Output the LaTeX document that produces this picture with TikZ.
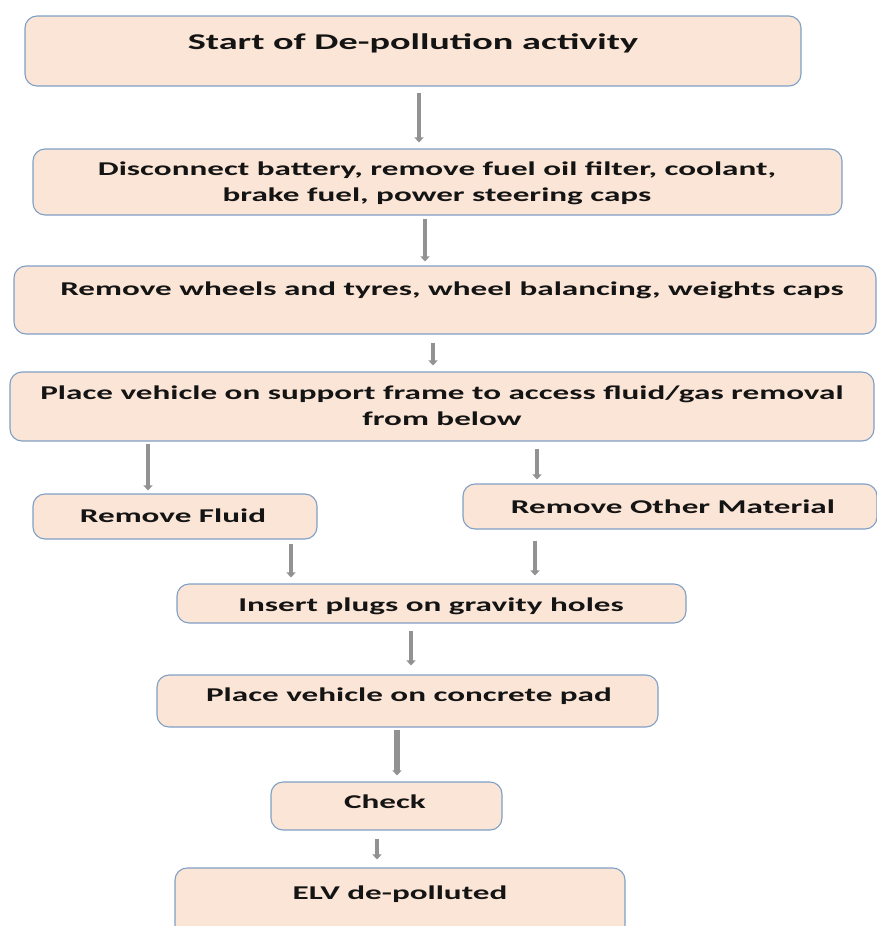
\documentclass[tikz,border=0pt]{standalone}
\usepackage{fontspec}
\setmainfont{Carlito}[FakeStretch=1.7]
\usetikzlibrary{arrows.meta}
\definecolor{boxfill}{HTML}{FBE5D6}
\definecolor{boxline}{HTML}{7F9FC6}
\definecolor{arrgray}{HTML}{929292}
\tikzset{
  stepbox/.style={draw=boxline, fill=boxfill, line width=1.1pt, rounded corners=12pt, inner sep=0pt},
  lbl/.style={font=\fontsize{19.5}{26}\selectfont\bfseries, inner sep=0pt, align=center, text=black!92},
  arr/.style={draw=arrgray, line width=4.8pt, -{Triangle[width=9pt,length=5pt]}},
}
\begin{document}
\begin{tikzpicture}[x=1pt,y=-1pt]
\useasboundingbox (0,0) rectangle (877,926);
\clip (0,0) rectangle (877,926);
% boxes
\node[stepbox, minimum width=776pt, minimum height=70pt] (b1) at (413,51) {};
\node[stepbox, minimum width=809pt, minimum height=66pt] (b2) at (437.5,182) {};
\node[stepbox, minimum width=862pt, minimum height=68pt] (b3) at (445,300) {};
\node[stepbox, minimum width=864pt, minimum height=69pt] (b4) at (442,406.5) {};
\node[stepbox, minimum width=284pt, minimum height=45pt] (b5) at (175,516.5) {};
\node[stepbox, minimum width=414pt, minimum height=45pt] (b6) at (670,506.5) {};
\node[stepbox, minimum width=509pt, minimum height=39pt] (b7) at (431.5,603.5) {};
\node[stepbox, minimum width=501pt, minimum height=52pt] (b8) at (407.5,701) {};
\node[stepbox, minimum width=231pt, minimum height=48pt] (b9) at (386.5,806) {};
\node[stepbox, minimum width=450pt, minimum height=76pt] (b10) at (400,906) {};
% texts
\node[lbl, font=\fontsize{22.5}{28}\selectfont\bfseries, anchor=base] (t1) at (413,49) {Start of De-pollution activity};
\node[lbl] (t2) at (437,183) {Disconnect battery, remove fuel oil filter, coolant,\\brake fuel, power steering caps};
\node[lbl, anchor=base] (t3) at (452,295) {Remove wheels and tyres, wheel balancing, weights caps};
\node[lbl] (t4) at (442,406) {Place vehicle on support frame to access fluid/gas removal\\from below};
\node[lbl, anchor=base] (t5) at (173,522) {Remove Fluid};
\node[lbl, anchor=base] (t6) at (673,513) {Remove Other Material};
\node[lbl, anchor=base] (t7) at (431,611) {Insert plugs on gravity holes};
\node[lbl, anchor=base] (t8) at (409,701) {Place vehicle on concrete pad};
\node[lbl, anchor=base] (t9) at (385,808) {Check};
\node[lbl, anchor=base] (t10) at (400,899) {ELV de-polluted};
% connectors
\draw[arr, shorten <=6pt, shorten >=6pt] ([xshift=6pt]b1.south) -- ([xshift=-18.5pt]b2.north);
\draw[arr, shorten <=3pt, shorten >=4pt] ([xshift=-12.5pt]b2.south) -- ([xshift=-20pt]b3.north);
\draw[arr, shorten <=8pt, shorten >=6pt] ([xshift=-12pt]b3.south) -- ([xshift=-9pt]b4.north);
\draw[arr, shorten <=2pt, shorten >=3pt] ([xshift=-294pt]b4.south) -- ([xshift=-27pt]b5.north);
\draw[arr, shorten <=7pt, shorten >=4pt] ([xshift=95pt]b4.south) -- ([xshift=-133pt]b6.north);
\draw[arr, shorten <=4pt, shorten >=6pt] ([xshift=116pt]b5.south) -- ([xshift=-140.5pt]b7.north);
\draw[arr, shorten <=11pt, shorten >=8pt] ([xshift=-135pt]b6.south) -- ([xshift=103.5pt]b7.north);
\draw[arr, shorten <=7pt, shorten >=9pt] ([xshift=-20.5pt]b7.south) -- ([xshift=3.5pt]b8.north);
\draw[arr, line width=6.5pt, shorten <=2pt, shorten >=6pt] ([xshift=-10.5pt]b8.south) -- ([xshift=10.5pt]b9.north);
\draw[arr, shorten <=8pt, shorten >=8pt] ([xshift=-9.5pt]b9.south) -- ([xshift=-23pt]b10.north);
\end{tikzpicture}
\end{document}
